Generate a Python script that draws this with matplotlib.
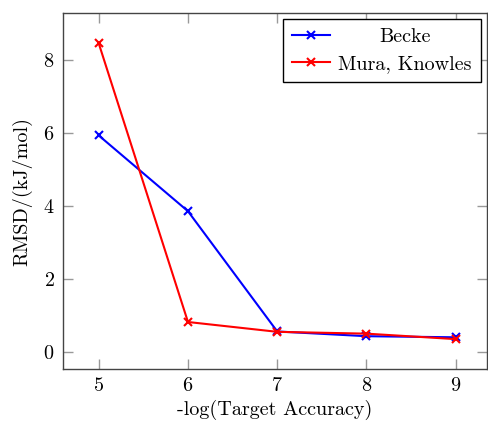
import matplotlib
matplotlib.use('Agg')
import matplotlib.pyplot as plt

# data
accuracy = [5, 6, 7, 8, 9]
becke = [5.93, 3.85, 0.55, 0.42, 0.39]
mura_knowles = [8.46, 0.81, 0.54, 0.49, 0.34]

FS = 14.5
plt.rcParams['font.family'] = 'serif'
plt.rcParams['font.serif'] = ['cmr10']
plt.rcParams['mathtext.fontset'] = 'cm'
plt.rcParams['axes.formatter.use_mathtext'] = True
plt.rcParams['font.size'] = FS

fig = plt.figure(figsize=(4.88, 4.21), dpi=100)
ax = fig.add_axes([63 / 488, 52 / 421, 424 / 488, 356 / 421])

ax.plot(accuracy, becke, color='blue', marker='x', linewidth=1.5,
        markersize=6, markeredgewidth=1.5, label='Becke')
ax.plot(accuracy, mura_knowles, color='red', marker='x', linewidth=1.5,
        markersize=6, markeredgewidth=1.5, label='Mura, Knowles')

ax.set_xlim(4.6, 9.35)
ax.set_ylim(-0.48, 9.29)
ax.set_xticks([5, 6, 7, 8, 9])
ax.set_yticks([0, 2, 4, 6, 8])
ax.tick_params(direction='in', length=7, width=1, color='#999999',
               top=True, right=True, labelsize=FS, pad=6)
for s in ax.spines.values():
    s.set_color('#444444')
    s.set_linewidth(1)

ax.set_xlabel('-log(Target Accuracy)', fontsize=FS, labelpad=3)
ax.set_ylabel('RMSD/(kJ/mol)', fontsize=FS, labelpad=8)

leg = ax.legend(loc='upper right', fancybox=False, edgecolor='black',
                framealpha=1, borderaxespad=0.3, handlelength=1.9,
                fontsize=FS, borderpad=0.45, labelspacing=0.45,
                handletextpad=0.4)
leg.get_frame().set_linewidth(1)

# pgfplots centres the legend entries
fig.canvas.draw()
texts = leg.get_texts()
widths = [t.get_window_extent().width for t in texts]
texts[0].set_position(((max(widths) - widths[0]) / 2, 0))

plt.savefig('out.png', dpi=100)
